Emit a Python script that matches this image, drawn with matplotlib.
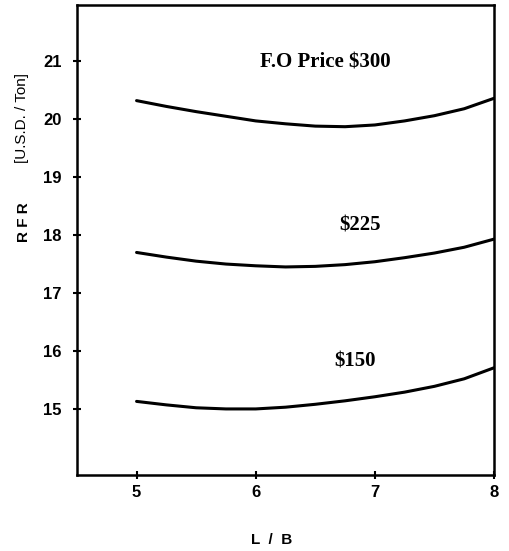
import matplotlib
matplotlib.use("Agg")
import matplotlib.pyplot as plt

# L/B ratio sampled along each curve
lb = [5.0, 5.25, 5.5, 5.75, 6.0, 6.25, 6.5, 6.75, 7.0, 7.25, 7.5, 7.75, 8.0]

# Required freight rate (USD / ton) for three fuel-oil prices
rfr_300 = [20.32, 20.22, 20.13, 20.05, 19.97, 19.92, 19.88, 19.87, 19.90, 19.97, 20.06, 20.18, 20.36]
rfr_225 = [17.70, 17.62, 17.55, 17.50, 17.47, 17.45, 17.46, 17.49, 17.54, 17.61, 17.69, 17.79, 17.93]
rfr_150 = [15.13, 15.07, 15.02, 15.00, 15.00, 15.03, 15.08, 15.14, 15.21, 15.29, 15.39, 15.52, 15.71]

curve_labels = ["F.O Price $300", "$225", "$150"]
x_ticks = [5, 6, 7, 8]
y_ticks = [15, 16, 17, 18, 19, 20, 21]

fig = plt.figure(figsize=(5.1, 5.51), dpi=100)
ax = fig.add_axes([77 / 510, 1 - 475 / 551, (494 - 77) / 510, (475 - 5) / 551])

for series in (rfr_300, rfr_225, rfr_150):
    ax.plot(lb, series, color="black", lw=2.2, solid_capstyle="round")

ax.set_xlim(4.5, 8.0)
ax.set_ylim(13.86, 21.97)
ax.set_xticks(x_ticks)
ax.set_yticks(y_ticks)

tick_font = dict(family="Liberation Sans", weight="bold", size=12)
ax.set_xticklabels([str(v) for v in x_ticks], fontdict=tick_font)
ax.set_yticklabels([str(v) for v in y_ticks], fontdict=tick_font)
ax.tick_params(direction="inout", length=6, width=1.5, colors="black")
ax.tick_params(axis="y", pad=8)
ax.tick_params(axis="x", pad=4)

for side in ("left", "bottom", "right", "top"):
    ax.spines[side].set_linewidth(1.8)

label_font = dict(family="Liberation Serif", weight="bold", size=15, ha="center", va="center")
ax.text(6.58, 20.98, curve_labels[0], **label_font)
ax.text(6.88, 18.17, curve_labels[1], **label_font)
ax.text(6.83, 15.81, curve_labels[2], **label_font)

# axis titles
fig.text(24 / 510, 1 - 222 / 551, "R F R", rotation=90, ha="center", va="center",
         family="Liberation Sans", weight="bold", size=11)
fig.text(22 / 510, 1 - 118 / 551, "[U.S.D. / Ton]", rotation=90, ha="center", va="center",
         family="Liberation Sans", size=11)
fig.text(272 / 510, 1 - 540 / 551, "L  /  B", ha="center", va="center",
         family="Liberation Sans", weight="bold", size=11)

fig.savefig("out.png", dpi=100)
